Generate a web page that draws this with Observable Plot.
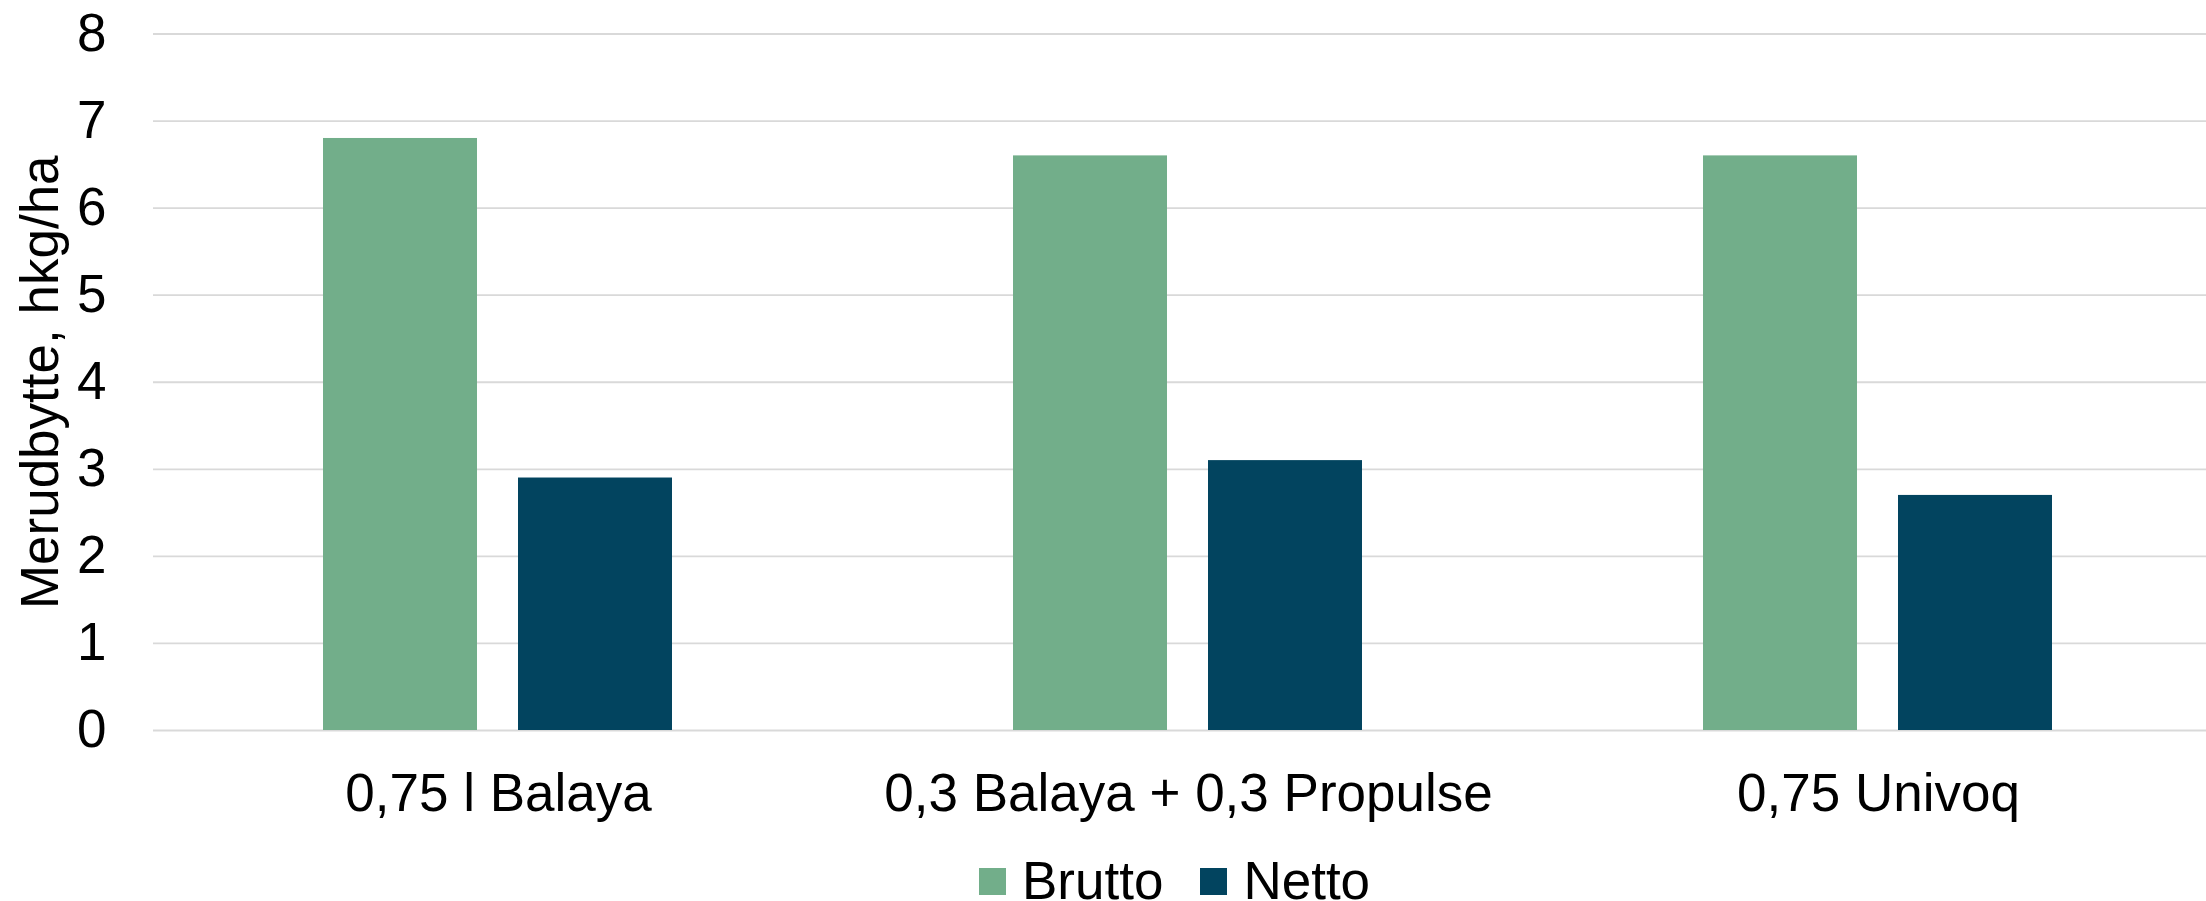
<!DOCTYPE html>
<html>
<head>
<meta charset="utf-8">
<script src="https://cdn.jsdelivr.net/npm/d3@7"></script>
<script src="https://cdn.jsdelivr.net/npm/@observablehq/plot@0.6"></script>
<style>
  html, body { margin: 0; padding: 0; background: #fff; overflow: hidden; }
  body { width: 2206px; height: 901px; font-family: "Liberation Sans", Arial, sans-serif; }
  #legend { font-size: 53px; line-height: 53px; height: 53px; padding-left: 979px; white-space: nowrap; color: #000; margin-top: -2px; }
  #legend .sw { display: inline-block; width: 27px; height: 27px; margin-bottom: 4px; vertical-align: baseline; }
  #legend .lab { margin-left: 16px; }
  #legend .gap { display: inline-block; width: 37px; }
</style>
</head>
<body>
<div id="chart"></div>
<div id="legend"></div>
<script>
const categories = ["0,75 l Balaya", "0,3 Balaya + 0,3 Propulse", "0,75 Univoq"];
const series = ["Brutto", "Netto"];
const brutto = [6.8, 6.6, 6.6];
const netto = [2.9, 3.1, 2.7];
const colors = ["#72AE8A", "#02445F"];
const yTicks = [0, 1, 2, 3, 4, 5, 6, 7, 8];
const yLabel = "Merudbytte, hkg/ha";

const data = categories.flatMap((c, i) => [
  {category: c, series: series[0], value: brutto[i]},
  {category: c, series: series[1], value: netto[i]}
]);

const chart = Plot.plot({
  width: 2206,
  height: 856,
  marginTop: 33.5,
  marginBottom: 126,
  marginLeft: 153,
  marginRight: -17,
  style: {fontFamily: "'Liberation Sans', Arial, sans-serif", fontSize: "53px", color: "#000", background: "#fff"},
  fx: {domain: categories, padding: 0, label: null},
  x: {domain: series, paddingInner: 0.21, paddingOuter: 0.874, axis: null},
  y: {domain: [0, 8], axis: null},
  color: {domain: series, range: colors},
  marks: [
    Plot.gridY(yTicks, {stroke: "#d9d9d9", strokeOpacity: 1, strokeWidth: 1.8}),
    Plot.barY(data, {fx: "category", x: "series", y: "value", fill: "series"}),
    Plot.axisY(yTicks, {tickSize: 0, tickPadding: 47, tickFormat: d3.format("d"), label: yLabel, labelAnchor: "center", labelOffset: 133, labelArrow: "none"}),
    Plot.axisFx({anchor: "bottom", tickSize: 0, tickPadding: 43, label: null})
  ]
});
document.getElementById("chart").appendChild(chart);

const legend = document.getElementById("legend");
series.forEach((s, i) => {
  if (i > 0) { const g = document.createElement("span"); g.className = "gap"; legend.appendChild(g); }
  const sw = document.createElement("span"); sw.className = "sw"; sw.style.background = colors[i];
  const lab = document.createElement("span"); lab.className = "lab"; lab.textContent = s;
  legend.appendChild(sw); legend.appendChild(lab);
});
</script>
</body>
</html>
